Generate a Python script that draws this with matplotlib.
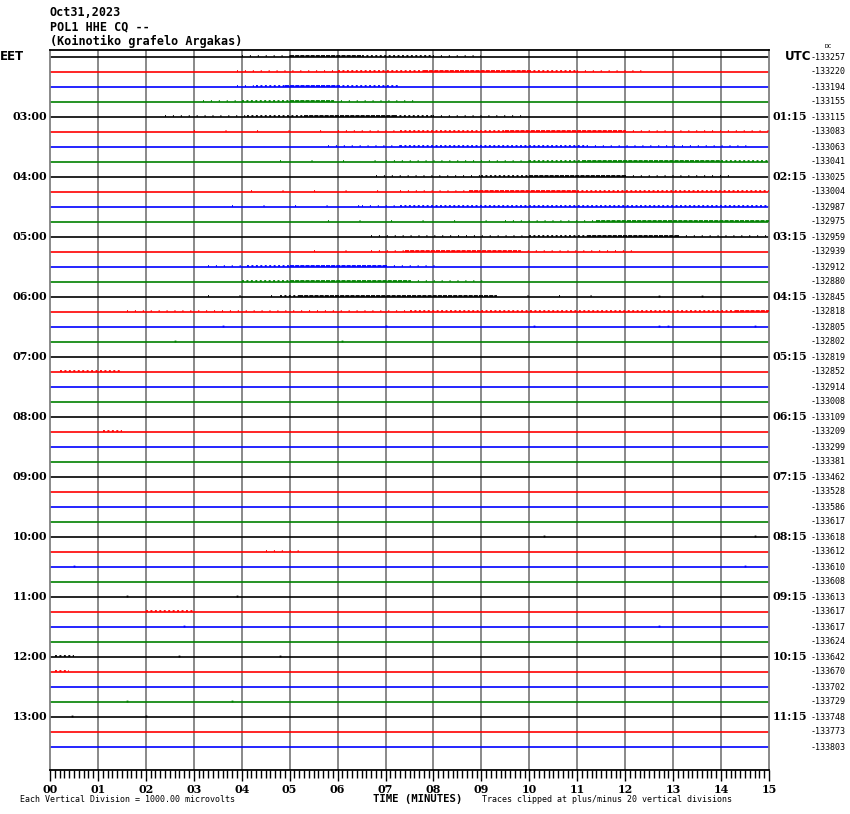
import matplotlib
matplotlib.use("Agg")
import matplotlib.pyplot as plt

plt.rcParams['lines.scale_dashes'] = False

# header
title_lines = ["Oct31,2023", "POL1 HHE CQ --", "(Koinotiko grafelo Argakas)"]

# one trace every 15 min, 02:00 .. 13:30 EET
n_rows = 47
trace_colors = ["black", "red", "blue", "green"]
eet_labels = ["03:00", "04:00", "05:00", "06:00", "07:00", "08:00",
              "09:00", "10:00", "11:00", "12:00", "13:00"]
utc_labels = ["01:15", "02:15", "03:15", "04:15", "05:15", "06:15",
              "07:15", "08:15", "09:15", "10:15", "11:15"]
label_rows = [4, 8, 12, 16, 20, 24, 28, 32, 36, 40, 44]
dc_offsets = [-133257, -133220, -133194, -133155, -133115, -133083, -133063, -133041,
              -133025, -133004, -132987, -132975, -132959, -132939, -132912, -132880,
              -132845, -132818, -132805, -132802, -132819, -132852, -132914, -133008,
              -133109, -133209, -133299, -133381, -133462, -133528, -133586, -133617,
              -133618, -133612, -133610, -133608, -133613, -133617, -133617, -133624,
              -133642, -133670, -133702, -133729, -133748, -133773, -133803]
minute_labels = ["%02d" % m for m in range(16)]

# noisy stretches: (row, start min, end min, level 0..3)
active = [
    (0, 4.0, 5.0, 1), (0, 5.0, 6.5, 3), (0, 6.5, 8.0, 2), (0, 8.0, 9.0, 1),
    (1, 3.9, 6.0, 1), (1, 6.0, 7.8, 2), (1, 7.8, 10.0, 3), (1, 10.0, 11.0, 2), (1, 11.0, 12.4, 1),
    (2, 3.9, 4.3, 1), (2, 4.3, 4.9, 2), (2, 4.9, 6.0, 3), (2, 6.0, 7.3, 2),
    (3, 3.2, 4.0, 1), (3, 4.0, 5.0, 2), (3, 5.0, 5.9, 3), (3, 5.9, 7.6, 1),
    (4, 2.4, 4.1, 1), (4, 4.1, 5.3, 2), (4, 5.3, 7.2, 3), (4, 7.2, 8.0, 2), (4, 8.0, 9.95, 1),
    (5, 3.0, 6.0, 0), (5, 6.0, 7.3, 1), (5, 7.3, 9.5, 2), (5, 9.5, 12.0, 3), (5, 12.0, 15.0, 1),
    (6, 5.8, 7.3, 1), (6, 7.3, 11.2, 2), (6, 11.2, 14.6, 1),
    (7, 4.8, 7.0, 0), (7, 7.0, 10.0, 1), (7, 10.0, 11.1, 2), (7, 11.1, 14.0, 3), (7, 14.0, 15.0, 2),
    (8, 6.8, 9.0, 1), (8, 9.0, 10.0, 2), (8, 10.0, 12.0, 3), (8, 12.0, 14.3, 1),
    (9, 4.2, 7.3, 0), (9, 7.3, 8.75, 1), (9, 8.75, 11.0, 3), (9, 11.0, 15.0, 2),
    (10, 3.8, 6.5, 0), (10, 6.5, 7.3, 1), (10, 7.3, 15.0, 2),
    (11, 5.8, 9.5, 0), (11, 9.5, 11.4, 1), (11, 11.4, 15.0, 3),
    (12, 6.7, 10.0, 1), (12, 10.0, 11.2, 2), (12, 11.2, 13.1, 3), (12, 13.1, 15.0, 1),
    (13, 5.5, 6.7, 0), (13, 6.7, 7.4, 1), (13, 7.4, 9.8, 3), (13, 9.8, 12.2, 1),
    (14, 3.3, 4.1, 1), (14, 4.1, 5.0, 2), (14, 5.0, 7.0, 3), (14, 7.0, 8.1, 1),
    (15, 4.0, 5.0, 2), (15, 5.0, 7.5, 3), (15, 7.5, 9.1, 1),
    (16, 3.3, 4.8, 0), (16, 4.8, 5.2, 2), (16, 5.2, 9.3, 3), (16, 9.3, 11.6, 0),
    (17, 1.6, 7.5, 1), (17, 7.5, 14.3, 2), (17, 14.3, 15.0, 3),
    (21, 0.2, 1.5, 2), (25, 1.1, 1.5, 2), (33, 4.5, 5.3, 1),
    (37, 2.0, 3.0, 2), (40, 0.1, 0.5, 2), (41, 0.1, 0.4, 2),
]
# isolated spikes: (row, minute)
spikes = [(16, 12.7), (16, 13.6), (18, 3.6), (18, 7.0), (18, 10.1), (18, 12.7), (18, 12.9),
          (18, 14.7), (19, 2.6), (19, 6.1), (32, 10.3), (32, 14.7), (34, 0.5), (34, 14.5),
          (36, 1.6), (36, 3.9), (38, 2.8), (38, 12.7), (40, 2.7), (40, 4.8),
          (43, 1.6), (43, 3.8), (44, 0.45), (44, 2.0)]

dash = {0: (0, (0.7, 22)), 1: (0, (0.7, 5)), 2: (0, (1.4, 1.8)), 3: (0, (3, 0.7))}

W, H = 850, 814
fig = plt.figure(figsize=(W / 100, H / 100), dpi=100)
ax = fig.add_axes([50 / W, 1 - 770 / H, 719 / W, 720 / H])
ax.set_xlim(0, 15)
ax.set_ylim((770 - 57) / 15, (50 - 57) / 15)

for m in range(1, 15):
    ax.axvline(m, color="#808080", lw=1.3, zorder=1)

for i in range(n_rows):
    ax.hlines(i, 0, 15, color=trace_colors[i % 4], lw=1.2, zorder=2)

for row, t0, t1, lev in active:
    ax.plot([t0, t1], [row - 0.055, row - 0.055], color=trace_colors[row % 4],
            lw=1.3, ls=dash[lev], solid_capstyle="butt", dash_capstyle="butt", zorder=3)
for row, t in spikes:
    ax.plot([t], [row - 0.055], marker="s", ms=1.3, mew=0, color=trace_colors[row % 4], zorder=3)

for s in ["left", "right"]:
    ax.spines[s].set_color("#808080")
    ax.spines[s].set_linewidth(1.3)
ax.spines["top"].set_linewidth(1.3)
ax.spines["bottom"].set_linewidth(1.3)

ax.set_yticks([])
ax.set_xticks(range(16))
ax.set_xticks([k / 10 for k in range(151)], minor=True)
ax.set_xticklabels(minute_labels, fontfamily="DejaVu Serif", fontweight="bold", fontsize=8)
ax.tick_params(axis="x", which="major", length=8, width=1, pad=2)
ax.tick_params(axis="x", which="minor", length=6, width=1)

serif_b = dict(fontfamily="DejaVu Serif", fontweight="bold", fontsize=8)
for row, lab in zip(label_rows, eet_labels):
    ax.text(-0.06, row, lab, ha="right", va="center", clip_on=False, **serif_b)
for row, lab in zip(label_rows, utc_labels):
    ax.text(15.08, row, lab, ha="left", va="center", clip_on=False, **serif_b)
for i, v in enumerate(dc_offsets):
    ax.text(15.86, i, str(v), ha="left", va="center", clip_on=False,
            fontfamily="DejaVu Sans Mono", fontsize=6)

ax.text(-1.04, 0, "EET", ha="left", va="center", clip_on=False,
        fontfamily="DejaVu Sans", fontweight="bold", fontsize=8.5)
ax.text(15.33, 0, "UTC", ha="left", va="center", clip_on=False,
        fontfamily="DejaVu Sans", fontweight="bold", fontsize=8.5)
fig.text(825 / W, 1 - 47 / H, "DC", ha="left", va="center", fontsize=4.5,
         fontfamily="DejaVu Sans Mono")

for k, line in enumerate(title_lines):
    fig.text(50 / W, 1 - (12 + 14.5 * k) / H, line, ha="left", va="center",
             fontfamily="DejaVu Sans Mono", fontweight="bold", fontsize=8.5)

fig.text(418 / W, 1 - 799 / H, "TIME (MINUTES)", ha="center", va="center",
         fontfamily="DejaVu Sans Mono", fontweight="bold", fontsize=7.7)
fig.text(20 / W, 1 - 800 / H, "Each Vertical Division = 1000.00 microvolts", ha="left",
         va="center", fontfamily="DejaVu Sans Mono", fontsize=6)
fig.text(482 / W, 1 - 800 / H, "Traces clipped at plus/minus 20 vertical divisions",
         ha="left", va="center", fontfamily="DejaVu Sans Mono", fontsize=6)

fig.savefig("out.png", dpi=100)
